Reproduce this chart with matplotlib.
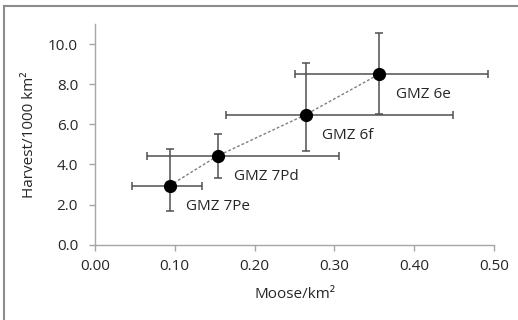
import matplotlib
matplotlib.use("Agg")
import matplotlib.pyplot as plt
from matplotlib.lines import Line2D

# Moose density vs harvest by game management zone
zones = ["GMZ 7Pe", "GMZ 7Pd", "GMZ 6f", "GMZ 6e"]
moose = [0.094, 0.154, 0.264, 0.356]
harvest = [2.95, 4.43, 6.48, 8.50]
moose_lo = [0.047, 0.065, 0.164, 0.250]
moose_hi = [0.134, 0.306, 0.448, 0.492]
harvest_lo = [1.67, 3.30, 4.65, 6.53]
harvest_hi = [4.77, 5.50, 9.07, 10.57]

xerr = [[m - lo for m, lo in zip(moose, moose_lo)],
        [hi - m for m, hi in zip(moose, moose_hi)]]
yerr = [[h - lo for h, lo in zip(harvest, harvest_lo)],
        [hi - h for h, hi in zip(harvest, harvest_hi)]]

plt.rcParams["font.family"] = ["Open Sans", "DejaVu Sans"]

fig = plt.figure(figsize=(5.18, 3.2), dpi=100)
ax = fig.add_axes([94.7 / 518, 75.3 / 320, 399.6 / 518, 220.7 / 320])

# outer chart frame
fig.add_artist(Line2D([4 / 518, 4 / 518], [0, 1 - 6 / 320], color="#8c8c8c", lw=1.5,
                      transform=fig.transFigure))
fig.add_artist(Line2D([4 / 518, 1], [1 - 6 / 320, 1 - 6 / 320], color="#8c8c8c", lw=1.5,
                      transform=fig.transFigure))

ax.plot(moose, harvest, color="#7f7f7f", lw=1, linestyle=(0, (2, 1.5)), zorder=2)
ax.errorbar(moose, harvest, xerr=xerr, yerr=yerr, fmt="none", ecolor="#505050",
            elinewidth=1.1, capsize=3, capthick=1.1, zorder=1)
ax.plot(moose, harvest, "o", color="black", markersize=8.5, zorder=3)

for name, x, y in zip(zones, moose, harvest):
    ax.annotate(name, (x, y), xytext=(12, -15), textcoords="offset points",
                fontsize=11, color="#262626", ha="left", va="center")

ax.set_xlim(0, 0.5)
ax.set_ylim(0, 11)
ax.set_xticks([0, 0.1, 0.2, 0.3, 0.4, 0.5])
ax.set_xticklabels(["0.00", "0.10", "0.20", "0.30", "0.40", "0.50"])
ax.set_yticks([0, 2, 4, 6, 8, 10])
ax.set_yticklabels(["0.0", "2.0", "4.0", "6.0", "8.0", "10.0"])

for side in ["top", "right"]:
    ax.spines[side].set_visible(False)
for side in ["left", "bottom"]:
    ax.spines[side].set_color("#a6a6a6")
    ax.spines[side].set_linewidth(1)
ax.tick_params(colors="#a6a6a6", length=4, width=1, labelcolor="#262626", labelsize=11)
ax.tick_params(axis="x", pad=6)
ax.tick_params(axis="y", pad=8)

ax.set_xlabel("Moose/km²", fontsize=11, color="#262626", labelpad=10)
ax.set_ylabel("Harvest/1000 km²", fontsize=11, color="#262626", labelpad=8)

fig.savefig("out.png", dpi=100)
